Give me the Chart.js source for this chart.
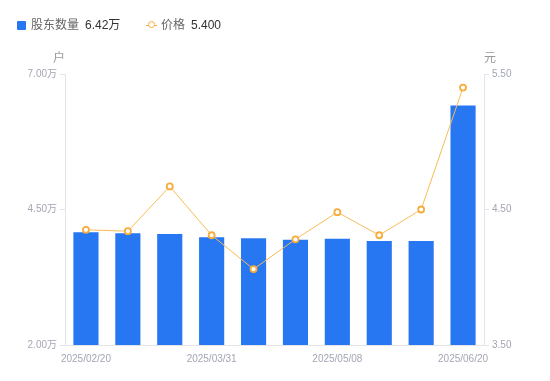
<!DOCTYPE html>
<html>
<head>
<meta charset="utf-8">
<script src="https://cdn.jsdelivr.net/npm/chart.js@4/dist/chart.umd.min.js"></script>
<style>
  html, body { margin: 0; padding: 0; background: #fff; }
  #wrap { position: relative; width: 550px; height: 381px; }
  #legend { position: absolute; left: 0; top: 0; width: 550px; height: 40px;
    font-family: 'Liberation Sans', 'Noto Sans CJK SC', sans-serif; font-size: 12px; }
  .li { position: absolute; top: 17px; line-height: 16px; white-space: nowrap; }
  .nm { color: #666; }
  .vl { color: #333; margin-left: 6px; }
  .sq { position: absolute; left: 17px; top: 21px; width: 9px; height: 9px; background: #2776f2; border-radius: 1px; }
  .lm { position: absolute; left: 146px; top: 25px; width: 11px; height: 1px; background: #f6ad3c; }
  .cm { position: absolute; left: 148px; top: 21px; width: 5px; height: 5px; border: 1.5px solid #f6ad3c; border-radius: 50%; background: #fff; }
</style>
</head>
<body>
<div id="wrap">
  <canvas id="c" width="550" height="381"></canvas>
  <div id="legend">
    <div class="sq"></div>
    <div class="li" style="left:31px"><span class="nm">股东数量</span><span class="vl">6.42万</span></div>
    <div class="lm"></div><div class="cm"></div>
    <div class="li" style="left:161px"><span class="nm">价格</span><span class="vl">5.400</span></div>
  </div>
</div>
<script>
const categories = ['2025/02/20','2025/02/28','2025/03/10','2025/03/31','2025/04/10','2025/04/18','2025/05/08','2025/05/20','2025/06/10','2025/06/20'];
const holders = [4.08, 4.06, 4.05, 3.99, 3.97, 3.94, 3.96, 3.92, 3.92, 6.42];
const prices = [4.35, 4.34, 4.67, 4.31, 4.06, 4.28, 4.48, 4.31, 4.50, 5.40];
const leftTicks = [2.00, 4.50, 7.00];
const rightTicks = [3.50, 4.50, 5.50];
const leftTitle = '户';
const rightTitle = '元';

const FONT = "'Liberation Sans', 'Noto Sans CJK SC', sans-serif";
const tickColor = '#a3a6b4';
const axisColor = '#e3e3e8';

const titlePlugin = {
  id: 'axisTitles',
  afterDraw(chart) {
    const ctx = chart.ctx;
    const yl = chart.scales.y, yr = chart.scales.y1;
    ctx.save();
    ctx.font = '12px ' + FONT;
    ctx.fillStyle = '#999';
    ctx.textAlign = 'center';
    ctx.textBaseline = 'middle';
    ctx.fillText(leftTitle, yl.right - 6, chart.chartArea.top - 15);
    ctx.fillText(rightTitle, yr.left + 6, chart.chartArea.top - 15);
    ctx.restore();
  }
};

new Chart(document.getElementById('c'), {
  data: {
    labels: categories,
    datasets: [
      {
        type: 'line', label: '价格', data: prices, yAxisID: 'y1', order: 0,
        borderColor: '#f8bb55', borderWidth: 1, tension: 0,
        pointRadius: 3, pointBorderWidth: 1.8, pointBackgroundColor: '#fff',
        pointBorderColor: '#f6ad3c'
      },
      {
        type: 'bar', label: '股东数量', data: holders, yAxisID: 'y', order: 1,
        backgroundColor: '#2776f2', barPercentage: 0.6, categoryPercentage: 1.0
      }
    ]
  },
  options: {
    responsive: false,
    animation: false,
    layout: { padding: { top: 74, left: 0, right: 0, bottom: 0 } },
    plugins: { legend: { display: false }, tooltip: { enabled: false } },
    scales: {
      x: {
        offset: true,
        grid: { display: false, drawTicks: false },
        border: { color: axisColor },
        ticks: {
          autoSkip: false, maxRotation: 0, color: tickColor, padding: 8,
          font: { size: 10, family: FONT },
          callback: function(v, i) { return (i % 3 === 0) ? categories[i] : ''; }
        },
        afterFit(s) { s.height = 36; }
      },
      y: {
        position: 'left', min: 2, max: 7,
        grid: { drawOnChartArea: false, drawTicks: true, tickLength: 5, color: axisColor },
        border: { color: axisColor },
        afterBuildTicks(s) { s.ticks = leftTicks.map(v => ({ value: v })); },
        ticks: { color: tickColor, padding: 3, font: { size: 10, family: FONT },
          callback: v => Number(v).toFixed(2) + '万' },
        afterFit(s) { s.width = 65; }
      },
      y1: {
        position: 'right', min: 3.5, max: 5.5,
        grid: { drawOnChartArea: false, drawTicks: true, tickLength: 5, color: axisColor },
        border: { color: axisColor },
        afterBuildTicks(s) { s.ticks = rightTicks.map(v => ({ value: v })); },
        ticks: { color: tickColor, padding: 3, font: { size: 10, family: FONT },
          callback: v => Number(v).toFixed(2) },
        afterFit(s) { s.width = 66; }
      }
    }
  },
  plugins: [titlePlugin]
});
</script>
</body>
</html>
